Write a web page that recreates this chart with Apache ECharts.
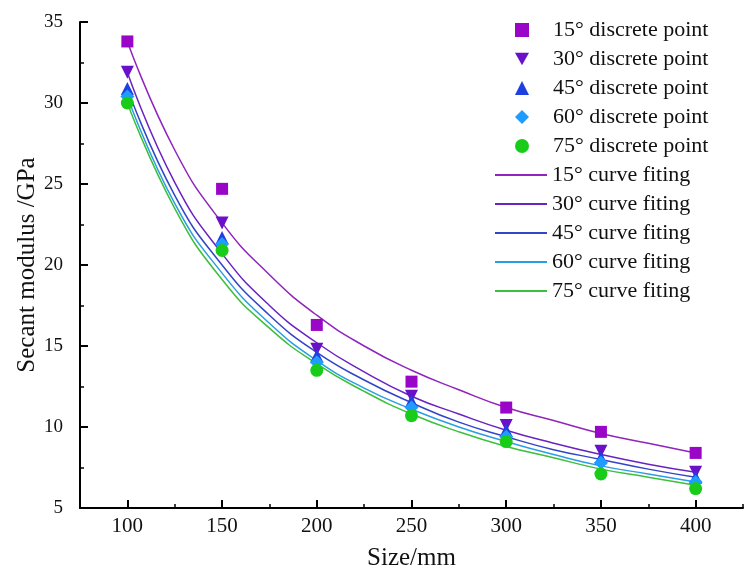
<!DOCTYPE html>
<html>
<head>
<meta charset="utf-8">
<script src="https://cdn.jsdelivr.net/npm/echarts@6/dist/echarts.min.js"></script>
<style>
  html, body { margin: 0; padding: 0; background: #fff; }
  #chart { width: 750px; height: 577px; }
</style>
</head>
<body>
<div id="chart"></div>
<script>
// measured points (Size/mm -> Secant modulus /GPa)
const sizes = [100, 150, 200, 250, 300, 350, 400];
const pts15 = [33.8, 24.7, 16.3, 12.8, 11.2, 9.7, 8.4];
const pts30 = [31.9, 22.6, 14.8, 11.9, 10.1, 8.5, 7.2];
const pts45 = [30.9, 21.7, 14.4, 11.6, 9.8, 8.1, 6.9];
const pts60 = [30.4, 21.3, 14.0, 11.2, 9.4, 7.8, 6.6];
const pts75 = [30.0, 20.9, 13.5, 10.7, 9.1, 7.1, 6.2];

// fitted curves
const fitX = [100, 125, 150, 175, 200, 225, 250, 275, 300, 325, 350, 375, 400];
const fit15 = [33.8, 27.1, 22.6, 19.4, 16.9, 15.0, 13.5, 12.3, 11.2, 10.4, 9.6, 9.0, 8.4];
const fit30 = [31.9, 25.1, 20.7, 17.5, 15.2, 13.4, 11.9, 10.8, 9.8, 9.0, 8.3, 7.7, 7.2];
const fit45 = [30.9, 24.3, 20.0, 16.9, 14.6, 12.9, 11.5, 10.3, 9.4, 8.6, 8.0, 7.4, 6.9];
const fit60 = [30.4, 23.8, 19.5, 16.4, 14.1, 12.4, 11.1, 10.0, 9.1, 8.3, 7.6, 7.1, 6.6];
const fit75 = [30.0, 23.5, 19.1, 16.1, 13.9, 12.2, 10.8, 9.7, 8.8, 8.1, 7.4, 6.9, 6.4];

const xMajor = [100, 150, 200, 250, 300, 350, 400];
const xMinor = [125, 175, 225, 275, 325, 375, 425];

const font = 'Liberation Serif';

function pairs(xs, ys) {
  return xs.map((x, i) => [x, ys[i]]);
}

// scatter series (icon = what the legend shows)
const pointDefs = [
  { name: '15° discrete point', data: pts15, symbol: 'rect', icon: 'rect', color: '#9a06c8', rotate: 0, size: 12 },
  { name: '30° discrete point', data: pts30, symbol: 'triangle', icon: 'path://M0,0L10,0L5,9Z', color: '#6a10c8', rotate: 180, size: 13 },
  { name: '45° discrete point', data: pts45, symbol: 'triangle', icon: 'triangle', color: '#1f3fe0', rotate: 0, size: 13 },
  { name: '60° discrete point', data: pts60, symbol: 'diamond', icon: 'diamond', color: '#1e9cff', rotate: 0, size: 14 },
  { name: '75° discrete point', data: pts75, symbol: 'circle', icon: 'circle', color: '#1acc1a', rotate: 0, size: 13 }
];
// fitted lines
const lineDefs = [
  { name: '15° curve fiting', data: fit15, color: '#9024bc' },
  { name: '30° curve fiting', data: fit30, color: '#6a22c2' },
  { name: '45° curve fiting', data: fit45, color: '#3444c8' },
  { name: '60° curve fiting', data: fit60, color: '#2a9ee2' },
  { name: '75° curve fiting', data: fit75, color: '#3cbf3c' }
];

const series = [];
lineDefs.forEach(d => {
  series.push({
    name: d.name,
    type: 'line',
    smooth: true,
    symbol: 'none',
    data: pairs(fitX, d.data),
    lineStyle: { color: d.color, width: 1.5 },
    itemStyle: { color: d.color },
    z: 2
  });
});
pointDefs.forEach(d => {
  series.push({
    name: d.name,
    type: 'scatter',
    symbol: d.symbol,
    symbolSize: d.size,
    symbolRotate: d.rotate,
    data: pairs(sizes, d.data),
    itemStyle: { color: d.color, opacity: 1 },
    z: 3
  });
});

const legendText = { fontFamily: font, fontSize: 22, color: '#111' };

const chart = echarts.init(document.getElementById('chart'));
chart.setOption({
  animation: false,
  backgroundColor: '#fff',
  grid: { left: 80, right: 7, top: 22, bottom: 69 },
  legend: [
    {
      orient: 'vertical',
      left: 510,
      top: 14,
      itemWidth: 14,
      itemHeight: 14,
      itemGap: 7,
      data: pointDefs.map(d => ({ name: d.name, icon: d.icon })),
      textStyle: Object.assign({ padding: [0, 0, 0, 19] }, legendText)
    },
    {
      orient: 'vertical',
      left: 490,
      top: 159,
      itemWidth: 52,
      itemHeight: 2,
      itemGap: 7,
      icon: 'rect',
      data: lineDefs.map(d => d.name),
      textStyle: legendText
    }
  ],
  xAxis: [
    {
      type: 'value',
      min: 75,
      max: 425,
      name: 'Size/mm',
      nameLocation: 'middle',
      nameGap: 38,
      nameMoveOverlap: false,
      nameTextStyle: { fontFamily: font, fontSize: 25, color: '#111' },
      axisLine: { lineStyle: { color: '#000', width: 2 } },
      axisTick: { inside: true, length: 8, customValues: xMajor, lineStyle: { color: '#000', width: 2 } },
      axisLabel: { customValues: xMajor, fontFamily: font, fontSize: 21, color: '#111', margin: 8 },
      splitLine: { show: false }
    },
    {
      type: 'value',
      min: 75,
      max: 425,
      position: 'bottom',
      axisLine: { show: false },
      axisTick: { inside: true, length: 4, customValues: xMinor, lineStyle: { color: '#000', width: 1.5 } },
      axisLabel: { show: false },
      splitLine: { show: false }
    }
  ],
  yAxis: {
    type: 'value',
    min: 5,
    max: 35,
    interval: 5,
    name: 'Secant modulus /GPa',
    nameLocation: 'middle',
    nameGap: 40,
    nameMoveOverlap: false,
    nameTextStyle: { fontFamily: font, fontSize: 25, color: '#111' },
    axisLine: { show: true, lineStyle: { color: '#000', width: 2 } },
    axisTick: { show: true, inside: true, length: 8, lineStyle: { color: '#000', width: 2 } },
    minorTick: { show: true, splitNumber: 2, length: 4, lineStyle: { color: '#000', width: 1.5 } },
    axisLabel: { fontFamily: font, fontSize: 19, color: '#111', margin: 17 },
    splitLine: { show: false }
  },
  series: series
});
</script>
</body>
</html>
